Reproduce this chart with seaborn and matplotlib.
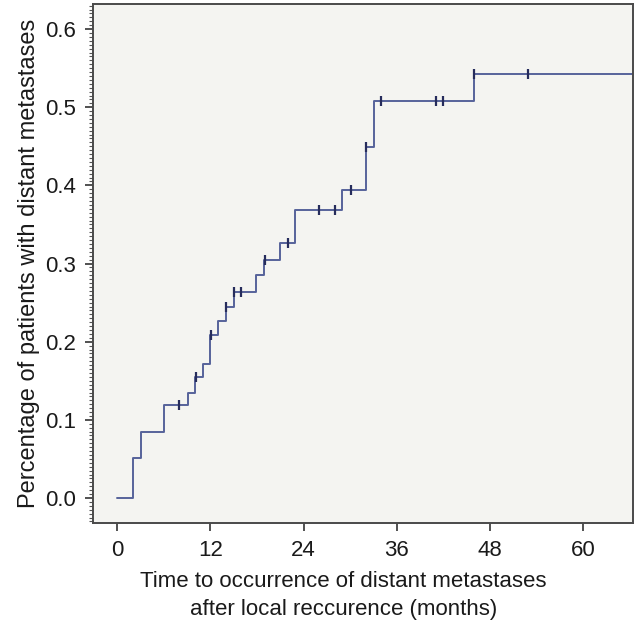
import numpy as np
import pandas as pd
import seaborn as sns
import matplotlib.pyplot as plt
from matplotlib.ticker import MultipleLocator

# Cumulative incidence step curve (months, proportion)
event_times = [0, 2.0, 3.1, 6.0, 9.1, 10.0, 11.0, 12.0, 13.0, 14.0, 15.0, 17.9,
               18.9, 21.0, 22.9, 29.0, 32.0, 33.1, 46.0, 66.5]
event_levels = [0.0, 0.051, 0.085, 0.119, 0.135, 0.155, 0.172, 0.208, 0.226, 0.245,
                0.264, 0.285, 0.305, 0.326, 0.368, 0.394, 0.449, 0.508, 0.543, 0.543]

# Censored observations (months)
censor_times = [8.0, 10.1, 12.1, 14.0, 15.0, 15.9, 19.0, 22.0, 26.0, 28.0,
                30.1, 32.0, 34.0, 41.1, 42.0, 46.0, 52.9]

curve = pd.DataFrame({'time': event_times, 'level': event_levels})

# level of the curve at each censoring time
idx = np.searchsorted(event_times, censor_times, side='right') - 1
censored = pd.DataFrame({'time': censor_times,
                         'level': [event_levels[i] for i in idx]})

sns.set_style('ticks')
plt.rcParams['font.family'] = ['Liberation Sans', 'DejaVu Sans']

fig = plt.figure(figsize=(6.38, 6.26), dpi=100)
ax = fig.add_axes([0.146, 0.1645, 0.846, 0.829])
ax.set_facecolor('#f4f4f1')

sns.lineplot(data=curve, x='time', y='level', drawstyle='steps-post',
             estimator=None, color='#56639a', linewidth=1.4, ax=ax)
sns.scatterplot(data=censored, x='time', y='level', marker='|', s=60,
                color='#262c5c', linewidth=1.6, ax=ax, zorder=3)

ax.set_xlim(-3.1, 66.4)
ax.set_ylim(-0.032, 0.632)
ax.set_xticks([0, 12, 24, 36, 48, 60])
ax.set_yticks([0.0, 0.1, 0.2, 0.3, 0.4, 0.5, 0.6])
ax.set_yticklabels(['0.0', '0.1', '0.2', '0.3', '0.4', '0.5', '0.6'])
ax.yaxis.set_minor_locator(MultipleLocator(0.005))
ax.tick_params(axis='both', which='major', labelsize=16, length=6, width=1.2,
               color='#333333', labelcolor='#1a1a1a', direction='out')
ax.tick_params(axis='y', which='major', pad=6)
ax.tick_params(axis='x', which='major', pad=6)
ax.tick_params(axis='y', which='minor', length=3, width=0.8, color='#555555')

for side in ['top', 'right', 'left', 'bottom']:
    ax.spines[side].set_visible(True)
    ax.spines[side].set_color('#4a4a4a')
    ax.spines[side].set_linewidth(1.4)

ax.set_xlabel('Time to occurrence of distant metastases\nafter local reccurence (months)',
              fontsize=16, color='#1a1a1a', linespacing=1.45)
ax.xaxis.set_label_coords(0.464, -0.092, transform=ax.transAxes)
ax.xaxis.label.set_va('top')
ax.set_ylabel('Percentage of patients with distant metastases',
              fontsize=17, color='#1a1a1a', labelpad=4)

fig.savefig('out.png', dpi=100, facecolor='white')
